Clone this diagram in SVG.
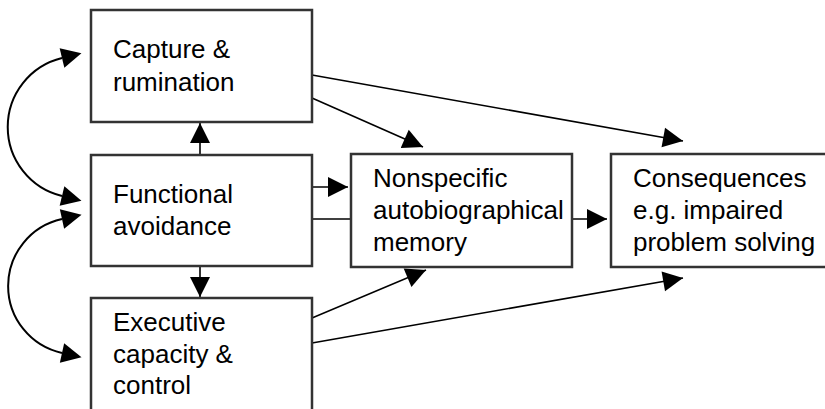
<svg xmlns="http://www.w3.org/2000/svg" width="825" height="409" viewBox="0 0 825 409">
<style>
  .box { fill: #ffffff; stroke: #333333; stroke-width: 2.5; }
  .t { font-family: "Liberation Sans", Arial, Helvetica, sans-serif; font-size: 26px; fill: #000000; }
  .c { fill: none; stroke: #000000; stroke-width: 1.6; }
  .arc { fill: none; stroke: #000000; stroke-width: 2; }
</style>
<defs>
  <marker id="tip" markerUnits="userSpaceOnUse" markerWidth="20" markerHeight="20" refX="20" refY="10" orient="auto" overflow="visible">
    <path d="M0,0 L20,10 L0,20 z" fill="#000"/>
  </marker>
  <marker id="base" markerUnits="userSpaceOnUse" markerWidth="20" markerHeight="20" refX="0" refY="10" orient="auto-start-reverse" overflow="visible">
    <path d="M0,0 L20,10 L0,20 z" fill="#000"/>
  </marker>
</defs>
<rect width="825" height="409" fill="#ffffff"/>

<g id="connectors">
  <line class="c" x1="200" y1="155" x2="200" y2="123" marker-end="url(#tip)"/>
  <line class="c" x1="200" y1="266" x2="200" y2="297" marker-end="url(#tip)"/>
  <line class="c" x1="312" y1="187" x2="348" y2="187" marker-end="url(#tip)"/>
  <line class="c" x1="312" y1="219" x2="351" y2="219"/>
  <line class="c" x1="572" y1="219" x2="607" y2="219" marker-end="url(#tip)"/>
  <line class="c" x1="312" y1="98" x2="423" y2="147" marker-end="url(#tip)"/>
  <line class="c" x1="312" y1="75" x2="683" y2="141" marker-end="url(#tip)"/>
  <line class="c" x1="312" y1="318" x2="426" y2="270" marker-end="url(#tip)"/>
  <line class="c" x1="312" y1="343" x2="683" y2="278" marker-end="url(#tip)"/>
  <path class="arc" d="M62,58 A71,71 0 0 0 62,196" marker-start="url(#base)" marker-end="url(#base)"/>
  <path class="arc" d="M62,219 A68.6,68.6 0 0 0 62,353" marker-start="url(#base)" marker-end="url(#base)"/>
</g>

<g id="capture">
  <rect class="box" x="91" y="10" width="221" height="112"/>
  <text class="t" x="113" y="58">Capture &amp;</text>
  <text class="t" x="113" y="91">rumination</text>
</g>
<g id="functional">
  <rect class="box" x="91" y="155" width="221" height="111"/>
  <text class="t" x="113" y="203">Functional</text>
  <text class="t" x="113" y="235">avoidance</text>
</g>
<g id="executive">
  <rect class="box" x="91" y="298" width="221" height="200"/>
  <text class="t" x="113" y="331">Executive</text>
  <text class="t" x="113" y="363">capacity &amp;</text>
  <text class="t" x="113" y="394">control</text>
</g>
<g id="nonspecific">
  <rect class="box" x="351" y="154" width="221" height="113"/>
  <text class="t" x="373" y="187">Nonspecific</text>
  <text class="t" x="373" y="219">autobiographical</text>
  <text class="t" x="373" y="251">memory</text>
</g>
<g id="consequences">
  <rect class="box" x="611" y="154" width="240" height="113"/>
  <text class="t" x="633" y="187">Consequences</text>
  <text class="t" x="633" y="219">e.g. impaired</text>
  <text class="t" x="633" y="251">problem solving</text>
</g>
</svg>
